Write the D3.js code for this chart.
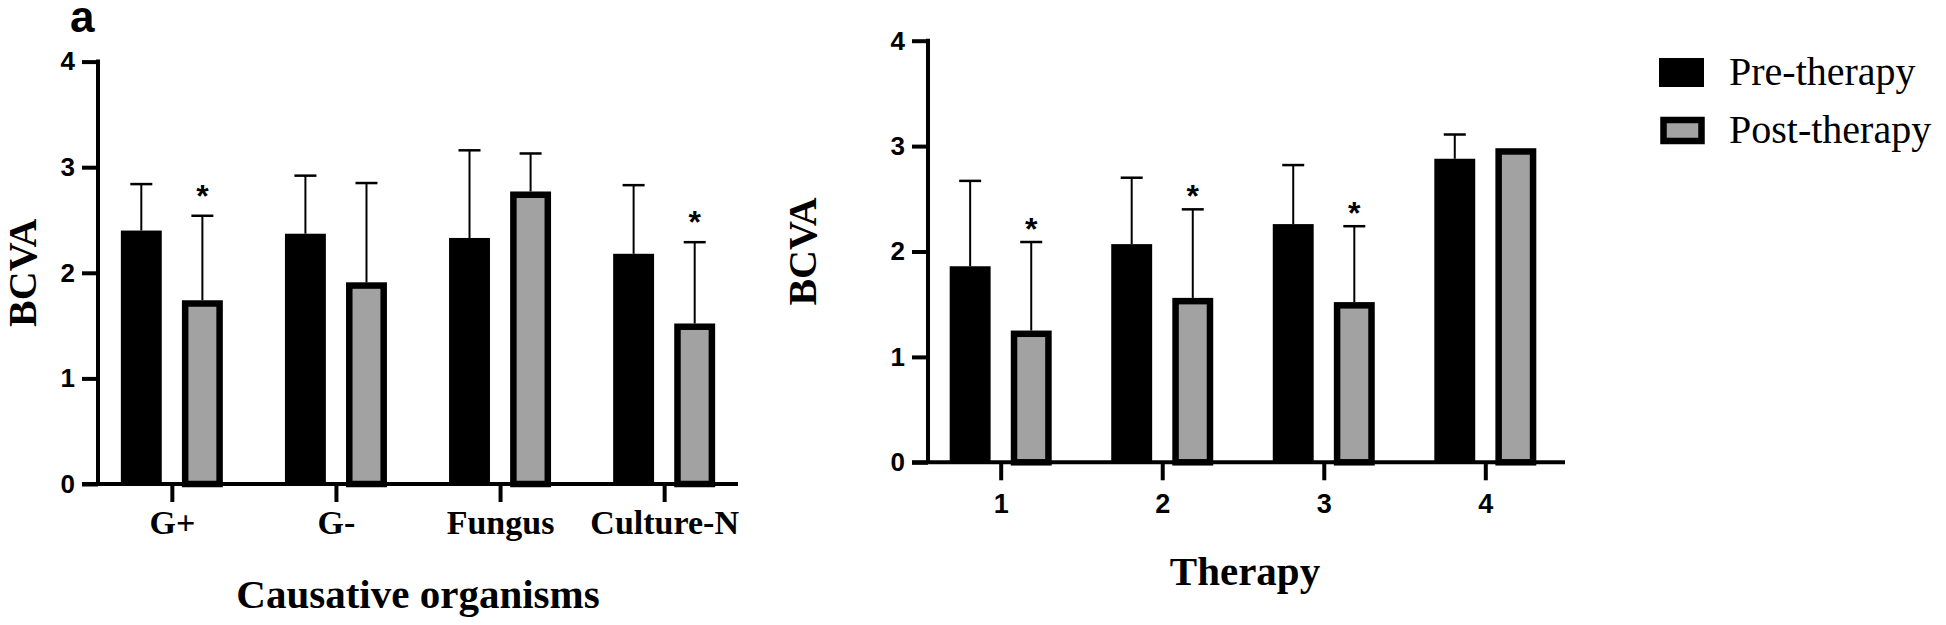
<!DOCTYPE html>
<html>
<head>
<meta charset="utf-8">
<script src="https://cdn.jsdelivr.net/npm/d3@7"></script>
<style>
  body { margin: 0; background: #fff; }
</style>
</head>
<body>
<div class="canvas"></div>
<script>
// data
const organisms = ['G+', 'G-', 'Fungus', 'Culture-N'];
const orgPre = [2.40, 2.37, 2.33, 2.18];
const orgPreSd = [0.44, 0.55, 0.83, 0.65];
const orgPost = [1.74, 1.91, 2.77, 1.52];
const orgPostSd = [0.80, 0.94, 0.36, 0.77];
const orgSig = [true, false, false, true];

const therapies = ['1', '2', '3', '4'];
const thPre = [1.86, 2.07, 2.26, 2.88];
const thPreSd = [0.81, 0.63, 0.56, 0.23];
const thPost = [1.25, 1.56, 1.52, 2.98];
const thPostSd = [0.84, 0.84, 0.72, 0];
const thSig = [true, true, true, false];

const yTicks = [0, 1, 2, 3, 4];
const seriesNames = ['Pre-therapy', 'Post-therapy'];

const GREY = '#a2a2a2';
const SANS = '"Liberation Sans", Arial, sans-serif';
const SERIF = '"Liberation Serif", "Times New Roman", serif';

const svg = d3.select('.canvas')
    .append('svg')
    .attr('width', 1946)
    .attr('height', 625);

function drawPanel(p) {
    const g = svg.append('g');

    const y = d3.scaleLinear()
        .domain([0, 4])
        .range([p.bottom, p.top]);

    const x = d3.scalePoint()
        .domain(p.cats)
        .range([p.left, p.right])
        .padding(0.45);

    // pre / post inside each category
    const inner = d3.scaleBand()
        .domain(['pre', 'post'])
        .range([-51, 51])
        .paddingInner(0.33);
    const bw = inner.bandwidth();

    const rows = p.cats.map((c, i) => ({
        cat: c, pre: p.pre[i], preSd: p.preSd[i],
        post: p.post[i], postSd: p.postSd[i], sig: p.sig[i]
    }));

    // pre bars
    g.selectAll('.pre')
        .data(rows)
        .enter().append('rect')
        .attr('x', d => x(d.cat) + inner('pre'))
        .attr('y', d => y(d.pre))
        .attr('width', bw)
        .attr('height', d => y(0) - y(d.pre))
        .attr('fill', '#000');

    // post bars, grey with thick black border
    const sw = 6.5;
    g.selectAll('.post')
        .data(rows)
        .enter().append('rect')
        .attr('x', d => x(d.cat) + inner('post') + sw / 2)
        .attr('y', d => y(d.post) + sw / 2)
        .attr('width', bw - sw)
        .attr('height', d => y(0) - y(d.post) - sw / 2)
        .attr('fill', GREY)
        .attr('stroke', '#000')
        .attr('stroke-width', sw);

    // error bars (upper only)
    const errs = [];
    rows.forEach(d => {
        errs.push({ cx: x(d.cat) + inner('pre') + bw / 2, v: d.pre, sd: d.preSd });
        errs.push({ cx: x(d.cat) + inner('post') + bw / 2, v: d.post, sd: d.postSd });
    });
    const eb = g.selectAll('.err')
        .data(errs.filter(e => e.sd > 0))
        .enter().append('g');
    eb.append('line')
        .attr('x1', e => e.cx).attr('x2', e => e.cx)
        .attr('y1', e => y(e.v)).attr('y2', e => y(e.v + e.sd))
        .attr('stroke', '#000').attr('stroke-width', 2);
    eb.append('line')
        .attr('x1', e => e.cx - 11).attr('x2', e => e.cx + 11)
        .attr('y1', e => y(e.v + e.sd)).attr('y2', e => y(e.v + e.sd))
        .attr('stroke', '#000').attr('stroke-width', 2.5);

    // significance stars
    g.selectAll('.star')
        .data(rows.filter(d => d.sig))
        .enter().append('text')
        .attr('x', d => x(d.cat) + inner('post') + bw / 2)
        .attr('y', d => y(d.post + d.postSd) - p.starGap + 18)
        .attr('text-anchor', 'middle')
        .attr('font-family', SANS)
        .attr('font-weight', 'bold')
        .attr('font-size', 32)
        .text('*');

    // y axis
    const yAxis = d3.axisLeft(y)
        .tickValues(yTicks)
        .tickFormat(d3.format('d'))
        .tickSize(16)
        .tickPadding(7);
    const yg = g.append('g')
        .attr('transform', `translate(${p.left}, 0)`)
        .call(yAxis);
    yg.select('.domain').remove();
    yg.selectAll('.tick line').attr('stroke', '#000').attr('stroke-width', 4);
    yg.selectAll('.tick text')
        .attr('font-family', SANS)
        .attr('font-weight', 'bold')
        .attr('font-size', 26)
        .attr('fill', '#000');
    g.append('line')
        .attr('x1', p.left).attr('x2', p.left)
        .attr('y1', y(4) - 2).attr('y2', y(0))
        .attr('stroke', '#000').attr('stroke-width', 4);

    // x axis
    const xAxis = d3.axisBottom(x)
        .tickSize(18)
        .tickSizeOuter(0);
    const xg = g.append('g')
        .attr('transform', `translate(0, ${y(0)})`)
        .call(xAxis);
    xg.select('.domain').remove();
    xg.selectAll('.tick line').attr('stroke', '#000').attr('stroke-width', 4);
    xg.selectAll('.tick text')
        .attr('y', p.xLabelY)
        .attr('dy', 0)
        .attr('font-family', p.xFont)
        .attr('font-weight', 'bold')
        .attr('font-size', p.xFontSize)
        .attr('fill', '#000');
    g.append('line')
        .attr('x1', p.left - 16).attr('x2', p.axisEnd)
        .attr('y1', y(0)).attr('y2', y(0))
        .attr('stroke', '#000').attr('stroke-width', 4);

    // axis titles
    g.append('text')
        .attr('transform', `translate(${p.yTitleX}, ${(y(0) + y(4)) / 2}) rotate(-90)`)
        .attr('text-anchor', 'middle')
        .attr('font-family', SERIF)
        .attr('font-weight', 'bold')
        .attr('font-size', 40)
        .text('BCVA');

    g.append('text')
        .attr('x', p.xTitleX)
        .attr('y', p.xTitleY)
        .attr('text-anchor', 'middle')
        .attr('font-family', SERIF)
        .attr('font-weight', 'bold')
        .attr('font-size', 41)
        .text(p.xTitle);
}

drawPanel({
    cats: organisms, pre: orgPre, preSd: orgPreSd, post: orgPost, postSd: orgPostSd, sig: orgSig,
    left: 98, right: 738, axisEnd: 738, top: 61.6, bottom: 484,
    xFont: SERIF, xFontSize: 34, xLabelY: 50, starGap: 27,
    yTitleX: 36, xTitle: 'Causative organisms', xTitleX: 418, xTitleY: 608
});

drawPanel({
    cats: therapies, pre: thPre, preSd: thPreSd, post: thPost, postSd: thPostSd, sig: thSig,
    left: 928, right: 1558, axisEnd: 1565, top: 40.7, bottom: 462.3,
    xFont: SANS, xFontSize: 27, xLabelY: 51, starGap: 20,
    yTitleX: 816, xTitle: 'Therapy', xTitleX: 1245, xTitleY: 585
});

// panel label
svg.append('text')
    .attr('x', 70)
    .attr('y', 32)
    .attr('font-family', SANS)
    .attr('font-weight', 'bold')
    .attr('font-size', 44)
    .text('a');

// legend
const legend = svg.append('g');
const legendY = d3.scalePoint().domain(seriesNames).range([72.5, 130.5]);
legend.append('rect')
    .attr('x', 1659).attr('y', legendY('Pre-therapy') - 14.5)
    .attr('width', 45).attr('height', 29)
    .attr('fill', '#000');
legend.append('rect')
    .attr('x', 1660 + 3.5).attr('y', legendY('Post-therapy') - 13.5 + 3)
    .attr('width', 45 - 7).attr('height', 27 - 6)
    .attr('fill', GREY)
    .attr('stroke', '#000')
    .attr('stroke-width', 6.5);
legend.selectAll('.lt')
    .data(seriesNames)
    .enter().append('text')
    .attr('x', 1729)
    .attr('y', d => legendY(d) + 12)
    .attr('font-family', SERIF)
    .attr('font-size', 40)
    .text(d => d);
</script>
</body>
</html>
